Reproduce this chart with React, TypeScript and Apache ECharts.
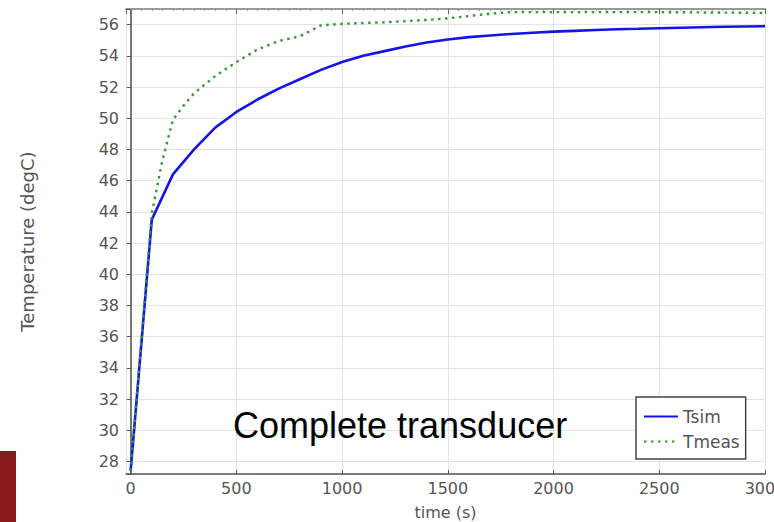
import React, { useEffect, useRef } from "react";
import * as echarts from "echarts";

// ---- data ----
const simTime = [0, 100, 200, 300, 400, 500, 600, 700, 800, 900, 1000, 1100, 1200, 1300, 1400, 1500, 1600, 1700, 1800, 1900, 2000, 2100, 2200, 2300, 2400, 2500, 2600, 2700, 2800, 2900, 3000];
const tsim = [27.4, 43.5, 46.4, 48.0, 49.4, 50.4, 51.2, 51.9, 52.5, 53.1, 53.6, 54.0, 54.3, 54.6, 54.85, 55.05, 55.2, 55.3, 55.4, 55.48, 55.55, 55.6, 55.65, 55.7, 55.73, 55.77, 55.8, 55.83, 55.86, 55.88, 55.9];
const measTime = [0, 100, 150, 200, 250, 300, 400, 500, 600, 700, 800, 900, 1000, 1200, 1400, 1500, 1600, 1700, 1800, 2000, 2500, 3000];
const tmeas = [27.4, 43.9, 47.3, 49.9, 50.8, 51.6, 52.7, 53.6, 54.4, 54.95, 55.25, 55.95, 56.05, 56.15, 56.3, 56.4, 56.55, 56.7, 56.8, 56.8, 56.8, 56.75];
const seriesNames = ["Tsim", "Tmeas"];
const xName = "time (s)";
const yName = "Temperature (degC)";
const annotation = "Complete transducer";

const FONT = "DejaVu Sans";

export default function App() {
  const ref = useRef<HTMLDivElement>(null);
  useEffect(() => {
    if (!ref.current) return;
    const chart = echarts.init(ref.current, null, { renderer: "svg" });
    const simData = simTime.map((t, i) => [t, tsim[i]]);
    const measData = measTime.map((t, i) => [t, tmeas[i]]);
    const xMin = -22, xMax = 3000, yMin = 27.2, yMax = 57;
    chart.setOption({
      animation: false,
      backgroundColor: "#ffffff",
      grid: { left: 126, right: 9, top: 9, bottom: 48, containLabel: false, outerBoundsMode: "none" },
      legend: {
        orient: "vertical",
        left: 636,
        top: 397,
        padding: [11, 6, 9, 7],
        itemGap: 8,
        itemWidth: 34,
        itemHeight: 14,
        borderColor: "#444",
        borderWidth: 1.5,
        backgroundColor: "#fff",
        itemStyle: { opacity: 0 },
        textStyle: { fontFamily: FONT, fontSize: 17, color: "#555" },
        data: seriesNames,
      },
      xAxis: [
        {
          type: "value",
          min: xMin,
          max: xMax,
          splitNumber: 6,
          name: xName,
          nameLocation: "middle",
          nameGap: 30,
          nameTextStyle: { fontFamily: FONT, fontSize: 16, color: "#555" },
          axisLine: { show: true, lineStyle: { color: "#555", width: 1.5 } },
          axisTick: { show: true, inside: true, length: 4, lineStyle: { color: "#555" } },
          axisLabel: {
            showMinLabel: false,
            margin: 6,
            fontFamily: FONT,
            fontSize: 16,
            color: "#555",
            formatter: (v: number) => String(v),
          },
          splitLine: { show: true, lineStyle: { color: "#e4e4e4", width: 1 } },
        },
        {
          type: "value",
          position: "top",
          min: xMin,
          max: xMax,
          splitNumber: 6,
          axisLine: { show: true, lineStyle: { color: "#999", width: 2 } },
          axisTick: { show: true, inside: true, length: 5, lineStyle: { color: "#666" } },
          minorTick: { show: true, splitNumber: 10, length: 2, lineStyle: { color: "#999" } },
          axisLabel: { show: false },
          splitLine: { show: false },
        },
      ],
      yAxis: [
        {
          type: "value",
          min: yMin,
          max: yMax,
          splitNumber: 15,
          name: yName,
          nameLocation: "middle",
          nameGap: 90,
          nameTextStyle: { fontFamily: FONT, fontSize: 18, color: "#555" },
          axisLine: { show: true, lineStyle: { color: "#555", width: 1.5 } },
          axisTick: { show: true, inside: false, length: 3, lineStyle: { color: "#555" } },
          axisLabel: {
            showMinLabel: false,
            showMaxLabel: false,
            margin: 7,
            fontFamily: FONT,
            fontSize: 16,
            color: "#555",
            formatter: (v: number) => String(v),
          },
          splitLine: { show: true, lineStyle: { color: "#e4e4e4", width: 1 } },
        },
        {
          type: "value",
          position: "right",
          min: yMin,
          max: yMax,
          splitNumber: 15,
          axisLine: { show: true, lineStyle: { color: "#777", width: 1.5 } },
          axisTick: { show: true, inside: true, length: 4, lineStyle: { color: "#555" } },
          axisLabel: { show: false },
          splitLine: { show: false },
        },
      ],
      series: [
        {
          name: seriesNames[0],
          type: "line",
          data: simData,
          symbol: "none",
          z: 2,
          lineStyle: { color: "#1414e6", width: 2.6 },
          itemStyle: { color: "#1414e6" },
        },
        {
          name: seriesNames[1],
          type: "line",
          data: measData,
          symbol: "none",
          z: 3,
          lineStyle: { color: "#2f9a2f", width: 2.4, type: [2.5, 4.5] },
          itemStyle: { color: "#2f9a2f" },
        },
      ],
      graphic: [
        {
          type: "text",
          x: 233,
          y: 425,
          z: 100,
          style: {
            text: annotation,
            fontFamily: "Liberation Sans, Arial",
            fontSize: 36,
            fill: "#000",
            verticalAlign: "middle",
            align: "left",
          },
        },
        {
          type: "rect",
          shape: { x: 0, y: 451, width: 16, height: 71 },
          style: { fill: "#8b1a1a" },
        },
      ],
    });
    return () => chart.dispose();
  }, []);
  return (
    <div
      ref={ref}
      style={{ position: "fixed", left: 0, top: 0, width: 774, height: 522, background: "#fff" }}
    />
  );
}
